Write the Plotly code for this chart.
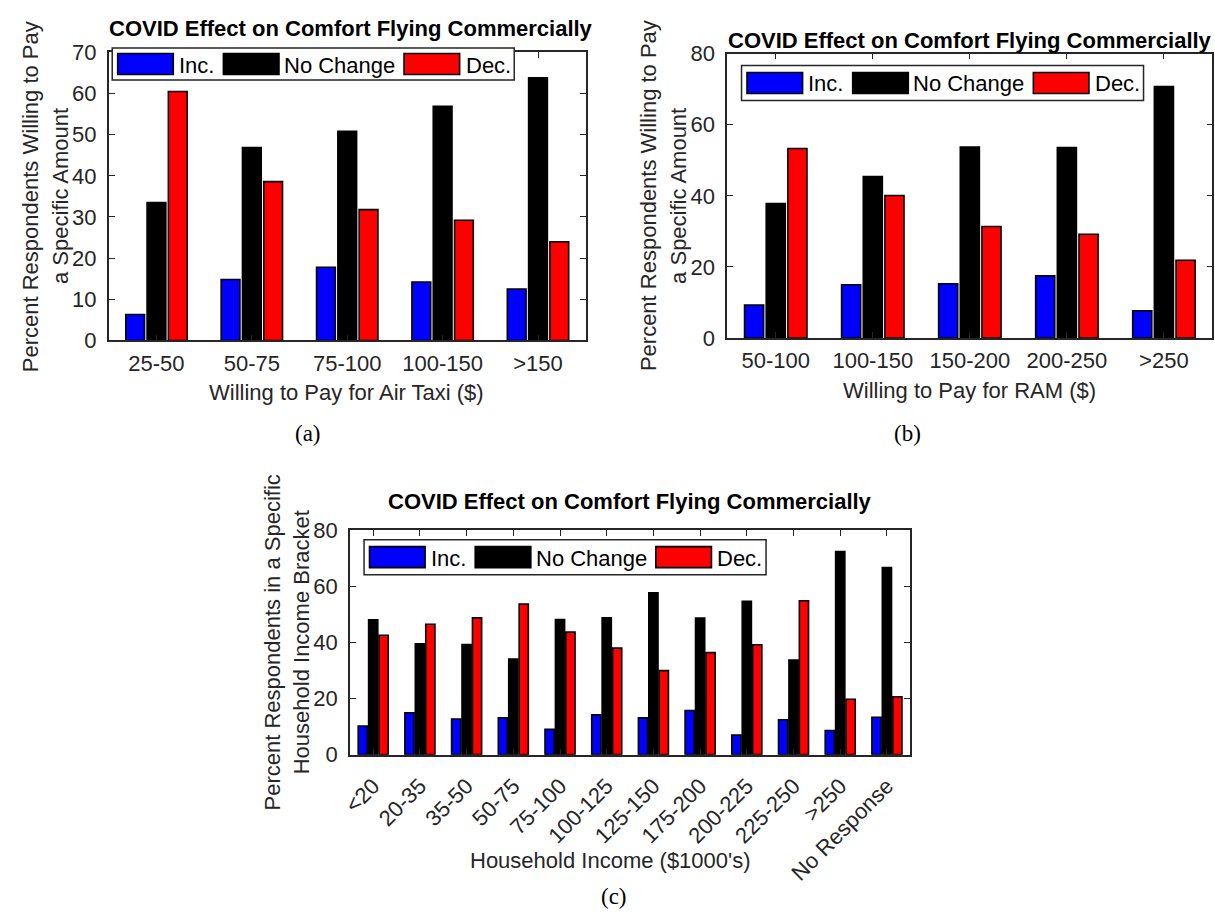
import plotly.graph_objects as go

# ---- data -------------------------------------------------------------
airtaxi_bins = ["25-50", "50-75", "75-100", "100-150", ">150"]
airtaxi_inc = [6.3, 14.8, 17.8, 14.2, 12.5]
airtaxi_same = [33.5, 46.9, 50.8, 56.9, 63.8]
airtaxi_dec = [60.5, 38.6, 31.8, 29.2, 24.0]

ram_bins = ["50-100", "100-150", "150-200", "200-250", ">250"]
ram_inc = [9.3, 15.0, 15.3, 17.5, 7.7]
ram_same = [37.8, 45.4, 53.7, 53.6, 70.7]
ram_dec = [53.3, 40.1, 31.4, 29.2, 21.9]

income_bins = ["<20", "20-35", "35-50", "50-75", "75-100", "100-125", "125-150",
               "175-200", "200-225", "225-250", ">250", "No Response"]
income_inc = [10.2, 14.9, 12.7, 13.1, 9.0, 14.2, 13.1, 15.7, 7.0, 12.4, 8.6, 13.3]
income_same = [48.0, 39.5, 39.2, 34.0, 48.1, 48.7, 57.6, 48.6, 54.6, 33.7, 72.3, 66.6]
income_dec = [42.5, 46.4, 48.7, 53.6, 43.6, 37.9, 29.9, 36.3, 39.1, 54.8, 19.7, 20.6]

series_names = ["Inc.", "No Change", "Dec."]
series_colors = ["#0000ff", "#000000", "#ff0000"]

TITLE = "COVID Effect on Comfort Flying Commercially"

# ---- page geometry ----------------------------------------------------
W, H = 1215, 924
FONT = "Liberation Sans, Arial, sans-serif"
SERIF = "Liberation Serif, Times New Roman, serif"
TXT = "#262626"


def fx(px):
    return px / W


def fy(py):
    return 1 - py / H


panels = [
    dict(key="", bins=airtaxi_bins, vals=[airtaxi_inc, airtaxi_same, airtaxi_dec],
         box=(100.5, 41.5, 581, 337.6), yrange=[0, 70], dtick=10, standoff=2),
    dict(key="2", bins=ram_bins, vals=[ram_inc, ram_same, ram_dec],
         box=(723.6, 42.7, 1212.4, 335.2), yrange=[0, 80], dtick=20, standoff=2),
    dict(key="3", bins=income_bins, vals=[income_inc, income_same, income_dec],
         box=(343.4, 532.3, 908, 763.3), yrange=[0, 80], dtick=20, standoff=8),
]

fig = go.Figure()
layout = {}

for p in panels:
    k = p["key"]
    x0, y0, x1, y1 = p["box"]
    for name, color, vals in zip(series_names, series_colors, p["vals"]):
        fig.add_trace(go.Bar(
            x=p["bins"], y=vals, name=name,
            xaxis="x" + k, yaxis="y" + k,
            marker=dict(color=color, line=dict(color="#000000", width=1.6)),
            showlegend=False,
        ))
    axis_common = dict(
        showline=True, linecolor=TXT, linewidth=1.6, mirror="allticks",
        ticks="inside", ticklen=6, tickwidth=1.3, tickcolor=TXT,
        showgrid=False, zeroline=False,
        tickfont=dict(family=FONT, size=22, color=TXT),
    )
    layout["xaxis" + k] = dict(
        axis_common, domain=[fx(x0), fx(x1)], anchor="y" + k,
        type="category", ticklabelstandoff=p["standoff"],
        tickangle=-45 if k == "3" else 0,
    )
    layout["yaxis" + k] = dict(
        axis_common, domain=[fy(y1), fy(y0)], anchor="x" + k,
        range=p["yrange"], dtick=p["dtick"], ticklabelstandoff=6,
    )

fig.update_layout(**layout)

# ---- text: titles, axis labels, captions --------------------------------
ann = []


def text(x, y, s, size=22, color=TXT, family=FONT, angle=0, xanchor="center"):
    ann.append(dict(x=fx(x), y=fy(y), xref="paper", yref="paper", text=s,
                    showarrow=False, textangle=angle, xanchor=xanchor,
                    yanchor="middle",
                    font=dict(family=family, size=size, color=color)))


# titles
text(345, 17, "<b>" + TITLE + "</b>", size=22, color="#000000")
text(968, 29, "<b>" + TITLE + "</b>", size=22, color="#000000")
text(625.7, 503, "<b>" + TITLE + "</b>", size=22, color="#000000")

# x labels
text(340, 391, "Willing to Pay for Air Taxi ($)")
text(968, 389, "Willing to Pay for RAM ($)")
text(606, 872, "Household Income ($1000's)")

# y labels (two lines each)
text(22, 189.5, "Percent Respondents Willing to Pay", angle=-90)
text(52, 189.5, "a Specific Amount", angle=-90)
text(645, 189, "Percent Respondents Willing to Pay", angle=-90)
text(675, 189, "a Specific Amount", angle=-90)
text(265, 648, "Percent Respondents in a Specific", angle=-90)
text(295, 648, "Household Income Bracket", angle=-90)

# panel captions
text(301, 433, "(a)", size=23, color="#000000", family=SERIF)
text(905, 433, "(b)", size=23, color="#000000", family=SERIF)
text(610, 909, "(c)", size=23, color="#000000", family=SERIF)

# ---- legends (large swatches, horizontal) -----------------------------
shapes = []
legend_boxes = [(104, 37, 70), (738, 55, 91), (357.7, 542.3, 578.3)]
for lx, ltop, lbot in legend_boxes:
    shapes.append(dict(type="rect", xref="paper", yref="paper",
                       x0=fx(lx), x1=fx(lx + 405), y0=fy(lbot), y1=fy(ltop),
                       fillcolor="#ffffff", line=dict(color=TXT, width=1.5),
                       layer="above"))
    mid = (ltop + lbot) / 2
    for off, toff, name, color in zip([5.5, 112, 294], [66, 172, 355],
                                      series_names, series_colors):
        shapes.append(dict(type="rect", xref="paper", yref="paper",
                           x0=fx(lx + off), x1=fx(lx + off + 56),
                           y0=fy(mid + 10.8), y1=fy(mid - 10.8),
                           fillcolor=color, line=dict(color="#000000", width=1.6),
                           layer="above"))
        text(lx + toff - 1, mid + 1, name, color="#000000", xanchor="left")

fig.update_layout(
    width=W, height=H, autosize=False,
    margin=dict(l=0, r=0, t=0, b=0),
    paper_bgcolor="#ffffff", plot_bgcolor="#ffffff",
    barmode="group", bargap=0.33, bargroupgap=0.12,
    annotations=ann, shapes=shapes,
)

fig.write_html("out.html")
